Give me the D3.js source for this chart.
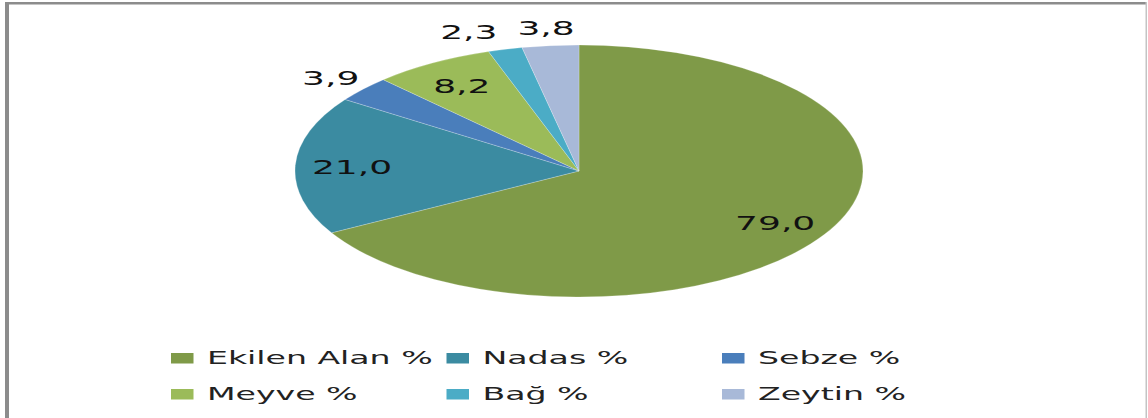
<!DOCTYPE html>
<html>
<head>
<meta charset="utf-8">
<script src="https://cdn.jsdelivr.net/npm/d3@7/dist/d3.min.js"></script>
<style>
  html, body { margin: 0; padding: 0; background: #fff; }
  svg { display: block; }
</style>
</head>
<body>
<svg id="chart" width="1148" height="418"></svg>
<script>
// ---- data ----
const categories = ["Ekilen Alan %", "Nadas %", "Sebze %", "Meyve %", "Bağ %", "Zeytin %"];
const values = [79.0, 21.0, 3.9, 8.2, 2.3, 3.8];
const valueLabels = ["79,0", "21,0", "3,9", "8,2", "2,3", "3,8"];
const colors = ["#7f9a48", "#3b8ba1", "#4a7ebb", "#9bbb59", "#4bacc6", "#a8b9d8"];

// ---- layout ----
const W = 1148, H = 418;
const cx = 579, cy = 171, rx = 284, ry = 126;
const svg = d3.select("#chart");

// frame
svg.append("rect").attr("x", 5).attr("y", 2).attr("width", 1142).attr("height", 2.5).attr("fill", "#8c8c8c");
svg.append("rect").attr("x", 5).attr("y", 2).attr("width", 4).attr("height", H).attr("fill", "#8c8c8c");
svg.append("rect").attr("x", 1145.5).attr("y", 2).attr("width", 1.5).attr("height", H).attr("fill", "#c4c4c4");

// pie
const pie = d3.pie().sort(null).value(d => d.v);
const data = pie(values.map((v, i) => ({ v, i })));
const arc = d3.arc().innerRadius(0).outerRadius(ry);

const pg = svg.append("g").attr("transform", `translate(${cx},${cy}) scale(${rx / ry},1)`);
pg.selectAll("path").data(data).enter().append("path")
  .attr("d", arc)
  .attr("fill", d => colors[d.data.i])
  .attr("stroke", "rgba(255,255,255,0.35)")
  .attr("stroke-width", 0.4);

// labels
const total = d3.sum(values);
const sx = 1.8;
const fontFam = "'DejaVu Sans', Verdana, sans-serif";
const labelPos = data.map(d => {
  const mid = (d.startAngle + d.endAngle) / 2;
  const frac = d.data.v / total;
  const outside = frac < 0.05;
  const k = outside ? 1.15 : 0.8;
  return {
    i: d.data.i,
    outside,
    x: cx + Math.sin(mid) * rx * k,
    y: cy - Math.cos(mid) * ry * k,
  };
});

const lg = svg.append("g");
const texts = lg.selectAll("text").data(labelPos).enter().append("text")
  .attr("font-family", fontFam)
  .attr("font-size", 20)
  .attr("fill", "#111")
  .attr("text-anchor", "middle")
  .attr("dominant-baseline", "central")
  .text(d => valueLabels[d.i]);

// measure widths & resolve collisions of outside labels (walk counter-clockwise from top)
texts.each(function (d) { d.w = this.getComputedTextLength() * sx; });
const outs = labelPos.filter(d => d.outside).sort((a, b) => b.x - a.x);
for (let j = 1; j < outs.length; j++) {
  const prev = outs[j - 1], cur = outs[j];
  const maxX = prev.x - prev.w / 2 - 20 - cur.w / 2;
  if (Math.abs(prev.y - cur.y) < 25 && cur.x > maxX) cur.x = maxX;
}
texts.attr("transform", d => `translate(${d.x},${d.y + 1}) scale(${sx},1)`);

// legend
const legSx = 1.95;
const colX = d3.scaleLinear().domain([0, 1]).range([171, 446.5]);
const rowY = d3.scaleLinear().domain([0, 1]).range([363.5, 399.5]);
const leg = svg.append("g").selectAll("g").data(categories).enter().append("g")
  .attr("transform", (d, i) => `translate(${colX(i % 3)},${rowY(Math.floor(i / 3))})`);
leg.append("rect")
  .attr("x", 0).attr("y", -10.5).attr("width", 22.5).attr("height", 10.5)
  .attr("fill", (d, i) => colors[i]);
leg.append("text")
  .attr("font-family", fontFam)
  .attr("font-size", 17)
  .attr("fill", "#222")
  .attr("transform", `translate(36,0) scale(${legSx},1)`)
  .text(d => d);
</script>
</body>
</html>
